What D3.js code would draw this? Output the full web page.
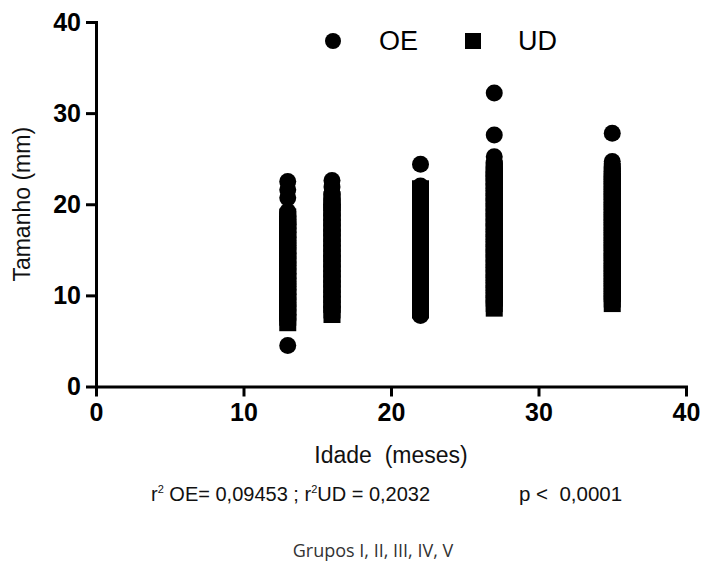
<!DOCTYPE html>
<html>
<head>
<meta charset="utf-8">
<script src="https://cdn.jsdelivr.net/npm/d3@7/dist/d3.min.js"></script>
<style>
  body { margin: 0; background: #fff; }
  svg { display: block; }
</style>
</head>
<body>
<svg id="chart" width="701" height="567"></svg>
<script>
// Age groups (months)
const ages = [13, 16, 22, 27, 35];

// OE measurements (mm), one list per age group
const oeSizes = [
  [4.5, 7.4, 7.9, 8.3, 8.8, 9.2, 9.7, 10.1, 10.6, 11.0, 11.5, 11.9, 12.4, 12.8, 13.3, 13.7, 14.2, 14.6, 15.1, 15.5, 16.0, 16.4, 16.9, 17.3, 17.8, 18.3, 18.7, 19.2, 20.7, 21.6, 22.5],
  [8.3, 8.8, 9.4, 9.9, 10.5, 11.1, 11.6, 12.2, 12.7, 13.3, 13.9, 14.4, 15.0, 15.5, 16.1, 16.7, 17.2, 17.8, 18.3, 18.9, 19.5, 20.0, 20.6, 21.2, 21.9, 22.6],
  [7.8, 8.3, 8.9, 9.4, 10.0, 10.5, 11.1, 11.6, 12.2, 12.8, 13.3, 13.9, 14.4, 15.0, 15.5, 16.1, 16.7, 17.2, 17.8, 18.3, 18.9, 19.4, 20.0, 20.6, 21.1, 21.6, 22.0, 24.4],
  [9.2, 9.8, 10.3, 10.9, 11.4, 12.0, 12.6, 13.1, 13.7, 14.2, 14.8, 15.4, 15.9, 16.5, 17.0, 17.6, 18.2, 18.7, 19.3, 19.8, 20.4, 21.0, 21.5, 22.1, 22.6, 23.1, 23.6, 24.1, 24.6, 25.2, 27.6, 32.2],
  [9.6, 10.2, 10.7, 11.3, 11.8, 12.4, 13.0, 13.5, 14.1, 14.6, 15.2, 15.8, 16.3, 16.9, 17.4, 18.0, 18.6, 19.1, 19.7, 20.2, 20.8, 21.4, 21.9, 22.5, 23.0, 23.6, 24.1, 24.7, 27.8]
];

// UD measurements (mm), one list per age group
const udSizes = [
  [7.0, 7.6, 8.1, 8.7, 9.3, 9.8, 10.4, 11.0, 11.5, 12.1, 12.7, 13.2, 13.8, 14.4, 14.9, 15.5, 16.1, 16.6, 17.2, 17.8, 18.2, 18.6],
  [7.9, 8.4, 9.0, 9.5, 10.1, 10.7, 11.2, 11.8, 12.3, 12.9, 13.5, 14.0, 14.6, 15.1, 15.7, 16.3, 16.8, 17.4, 17.9, 18.5, 19.1, 19.6, 20.2, 20.5],
  [8.4, 9.0, 9.5, 10.1, 10.6, 11.2, 11.8, 12.3, 12.9, 13.4, 14.0, 14.6, 15.1, 15.7, 16.2, 16.8, 17.4, 17.9, 18.5, 19.0, 19.6, 20.2, 20.7, 21.3, 21.7],
  [8.6, 9.1, 9.7, 10.2, 10.8, 11.4, 11.9, 12.5, 13.0, 13.6, 14.2, 14.7, 15.3, 15.8, 16.4, 17.0, 17.5, 18.1, 18.6, 19.2, 19.8, 20.3, 20.9, 21.4, 22.0, 22.6, 23.1, 23.6, 23.9],
  [9.1, 9.6, 10.2, 10.7, 11.3, 11.9, 12.4, 13.0, 13.5, 14.1, 14.7, 15.2, 15.8, 16.3, 16.9, 17.5, 18.0, 18.6, 19.1, 19.7, 20.3, 20.8, 21.4, 21.9, 22.5, 23.1, 23.6]
];

const xTicks = [0, 10, 20, 30, 40];
const yTicks = [0, 10, 20, 30, 40];
const seriesNames = ["OE", "UD"];

const svg = d3.select("#chart");

const x = d3.scaleLinear().domain([0, 40]).range([96, 686]);
const y = d3.scaleLinear().domain([0, 40]).range([386.5, 22]);

const R = 8.5;      // circle radius
const S = 17;       // square side

// flatten into point records
const oePoints = ages.flatMap((a, i) => oeSizes[i].map(v => ({ age: a, v })));
const udPoints = ages.flatMap((a, i) => udSizes[i].map(v => ({ age: a, v })));

// UD squares
svg.append("g").selectAll("rect")
  .data(udPoints)
  .join("rect")
  .attr("x", d => x(d.age) - S / 2)
  .attr("y", d => y(d.v) - S / 2)
  .attr("width", S)
  .attr("height", S)
  .attr("fill", "#000");

// OE circles
svg.append("g").selectAll("circle")
  .data(oePoints)
  .join("circle")
  .attr("cx", d => x(d.age))
  .attr("cy", d => y(d.v))
  .attr("r", R)
  .attr("fill", "#000");

// axes
const tickFont = "'Liberation Sans', Arial, sans-serif";

const xAxis = svg.append("g")
  .attr("transform", `translate(0,${y(0)})`)
  .call(d3.axisBottom(x).tickValues(xTicks).tickSize(10).tickSizeOuter(0).tickPadding(7).tickFormat(d3.format("d")));

const yAxis = svg.append("g")
  .attr("transform", `translate(${x(0)},0)`)
  .call(d3.axisLeft(y).tickValues(yTicks).tickSize(10).tickSizeOuter(0).tickPadding(5).tickFormat(d3.format("d")));

[xAxis, yAxis].forEach(g => {
  g.select(".domain").attr("stroke", "#000").attr("stroke-width", 3).attr("stroke-linecap", "square");
  g.selectAll(".tick line").attr("stroke", "#000").attr("stroke-width", 3);
  g.selectAll(".tick text")
    .attr("fill", "#000")
    .style("font-family", tickFont)
    .style("font-weight", "bold")
    .style("font-size", "25px");
});

// axis titles
svg.append("text")
  .attr("transform", `translate(30,${(y(0) + y(40)) / 2}) rotate(-90)`)
  .attr("text-anchor", "middle")
  .style("font-family", tickFont)
  .style("font-size", "23px")
  .attr("fill", "#111")
  .text("Tamanho (mm)");

svg.append("text")
  .attr("x", 391)
  .attr("y", 463)
  .attr("text-anchor", "middle")
  .style("font-family", tickFont)
  .style("font-size", "23px")
  .style("white-space", "pre")
  .attr("fill", "#111")
  .text("Idade  (meses)");

// legend
const legend = svg.append("g");
legend.append("circle").attr("cx", 333).attr("cy", 41).attr("r", 8).attr("fill", "#000");
legend.append("text").attr("x", 379).attr("y", 50)
  .style("font-family", tickFont).style("font-size", "27px").attr("fill", "#000")
  .text(seriesNames[0]);
legend.append("rect").attr("x", 465).attr("y", 33).attr("width", 16).attr("height", 16).attr("fill", "#000");
legend.append("text").attr("x", 518).attr("y", 50)
  .style("font-family", tickFont).style("font-size", "27px").attr("fill", "#000")
  .text(seriesNames[1]);

// regression statistics
const stats = svg.append("text")
  .attr("x", 151)
  .attr("y", 501)
  .style("font-family", tickFont)
  .style("font-size", "20px")
  .style("white-space", "pre")
  .attr("fill", "#111");
stats.append("tspan").text("r");
stats.append("tspan").attr("dy", -8).style("font-size", "11px").text("2");
stats.append("tspan").attr("dy", 8).text(" OE= 0,09453 ; r");
stats.append("tspan").attr("dy", -8).style("font-size", "11px").text("2");
stats.append("tspan").attr("dy", 8).text("UD = 0,2032");

svg.append("text")
  .attr("x", 519)
  .attr("y", 501)
  .style("font-family", tickFont)
  .style("font-size", "20.5px")
  .style("white-space", "pre")
  .attr("fill", "#111")
  .text("p <  0,0001");

svg.append("text")
  .attr("x", 373)
  .attr("y", 557)
  .attr("text-anchor", "middle")
  .style("font-family", "'Open Sans', 'DejaVu Sans', sans-serif")
  .style("font-size", "18px")
  .attr("fill", "#333")
  .text("Grupos I, II, III, IV, V");
</script>
</body>
</html>
